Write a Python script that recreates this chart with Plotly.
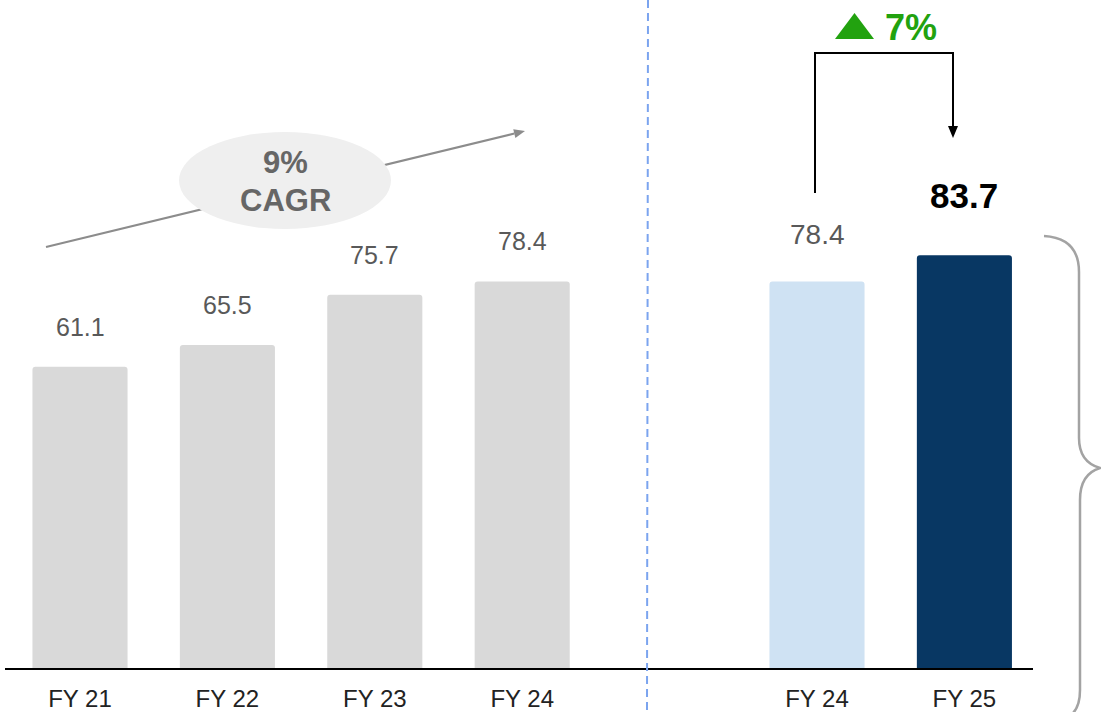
import plotly.graph_objects as go

# ---------------- data ----------------
categories = ["FY 21", "FY 22", "FY 23", "FY 24", "FY 24", "FY 25"]
values = [61.1, 65.5, 75.7, 78.4, 78.4, 83.7]
cagr_label = ["9%", "CAGR"]
growth_label = "7%"

# ---------------- layout helpers ----------------
W, H = 1101, 712
L, R, T, B = 5, 68, 0, 44
slots = [0, 1, 2, 3, 5, 6]          # slot 4 left empty as the separator gap
bar_colors = ["#d9d9d9", "#d9d9d9", "#d9d9d9", "#d9d9d9", "#cfe2f3", "#083763"]
FONT = "Liberation Sans, Arial, sans-serif"


def px(x):
    return (x - L) / (W - L - R)


def py(y):
    return (H - B - y) / (H - T - B)


def path(points, close=False):
    s = "M " + " L ".join(f"{px(x):.5f},{py(y):.5f}" for x, y in points)
    return s + (" Z" if close else "")


fig = go.Figure()
fig.add_trace(go.Bar(
    x=slots, y=values, width=0.645,
    marker=dict(color=bar_colors, line=dict(width=0), cornerradius=3),
    hoverinfo="skip",
))

shapes = []
# CAGR trend line (under ellipse)
x0, y0, x1, y1 = 46, 247, 525, 131
dx, dy = x1 - x0, y1 - y0
ln = (dx ** 2 + dy ** 2) ** 0.5
ux, uy = dx / ln, dy / ln
hl, hw = 11, 4.5
bx, by = x1 - ux * hl, y1 - uy * hl
shapes.append(dict(type="path", xref="paper", yref="paper",
                   path=path([(x0, y0), (bx, by)]),
                   line=dict(color="#8c8c8c", width=2)))
shapes.append(dict(type="path", xref="paper", yref="paper",
                   path=path([(x1, y1), (bx - uy * hw, by + ux * hw), (bx + uy * hw, by - ux * hw)], close=True),
                   fillcolor="#8c8c8c", line=dict(width=0)))
# CAGR ellipse
shapes.append(dict(type="circle", xref="paper", yref="paper",
                   x0=px(179), x1=px(391), y0=py(229), y1=py(132),
                   fillcolor="#efefef", line=dict(width=0)))
# dashed separator
shapes.append(dict(type="line", xref="paper", yref="paper",
                   x0=px(648), x1=px(647), y0=py(0), y1=py(712),
                   line=dict(color="#7ba4ef", width=2, dash="8px,5px")))
# growth connector
shapes.append(dict(type="path", xref="paper", yref="paper",
                   path=path([(815, 193), (815, 53), (953, 53), (953, 128)]),
                   line=dict(color="#000000", width=2)))
shapes.append(dict(type="path", xref="paper", yref="paper",
                   path=path([(948, 126), (958, 126), (953, 138)], close=True),
                   fillcolor="#000000", line=dict(width=0)))
# green up triangle
shapes.append(dict(type="path", xref="paper", yref="paper",
                   path=path([(835, 39), (854.5, 13), (874, 39)], close=True),
                   fillcolor="#22a20f", line=dict(width=0)))
# right brace
brace = (f"M {px(1044)},{py(236)} Q {px(1079)},{py(238)} {px(1079)},{py(272)} "
         f"L {px(1079)},{py(438)} Q {px(1079)},{py(462)} {px(1100)},{py(468)} "
         f"Q {px(1080)},{py(474)} {px(1080)},{py(500)} "
         f"L {px(1080)},{py(690)} Q {px(1080)},{py(712)} {px(1066)},{py(718)}")
shapes.append(dict(type="path", xref="paper", yref="paper", path=brace,
                   line=dict(color="#a3a3a3", width=2.5)))

annotations = []
# value labels
for i, (s, v) in enumerate(zip(slots, values)):
    if i < 4:
        f, sh, col, txt = 25, 40, "#595959", f"{v:.1f}"
    elif i == 4:
        f, sh, col, txt = 28, 47, "#595959", f"{v:.1f}"
    else:
        f, sh, col, txt = 35, 60, "#000000", f"<b>{v:.1f}</b>"
    annotations.append(dict(x=s, y=v, xref="x", yref="y", text=txt, showarrow=False,
                            yshift=sh, yanchor="middle", xanchor="center",
                            font=dict(family=FONT, size=f, color=col)))
# CAGR text
annotations.append(dict(x=px(285), y=py(163), xref="paper", yref="paper",
                        text=f"<b>{cagr_label[0]}</b>", showarrow=False,
                        xanchor="center", yanchor="middle",
                        font=dict(family=FONT, size=31, color="#666666")))
annotations.append(dict(x=px(285), y=py(200), xref="paper", yref="paper",
                        text=f"<b>{cagr_label[1]}</b>", showarrow=False,
                        xanchor="center", yanchor="middle",
                        font=dict(family=FONT, size=31, color="#666666")))
# growth text
annotations.append(dict(x=px(883), y=py(27), xref="paper", yref="paper",
                        text=f"<b>{growth_label}</b>", showarrow=False,
                        xanchor="left", yanchor="middle",
                        font=dict(family=FONT, size=36, color="#22a20f")))

fig.update_layout(
    width=W, height=H,
    margin=dict(l=L, r=R, t=T, b=B, pad=0),
    paper_bgcolor="white", plot_bgcolor="white",
    showlegend=False,
    shapes=shapes, annotations=annotations,
    xaxis=dict(range=[(L - 80) / 147.4 + 0.0, (W - R - 80) / 147.4],
               tickvals=slots, ticktext=categories,
               tickfont=dict(family=FONT, size=24, color="#222222"),
               ticklabelstandoff=8,
               showgrid=False, zeroline=False, showline=True,
               linecolor="#000000", linewidth=2, ticks="", fixedrange=True),
    yaxis=dict(range=[0, (H - T - B) / 4.93], visible=False, showgrid=False,
               zeroline=False, fixedrange=True),
    hovermode=False,
)

fig.write_html("out.html", config={"displayModeBar": False},
               post_script="document.body.style.margin='0';document.body.style.overflow='hidden';")
